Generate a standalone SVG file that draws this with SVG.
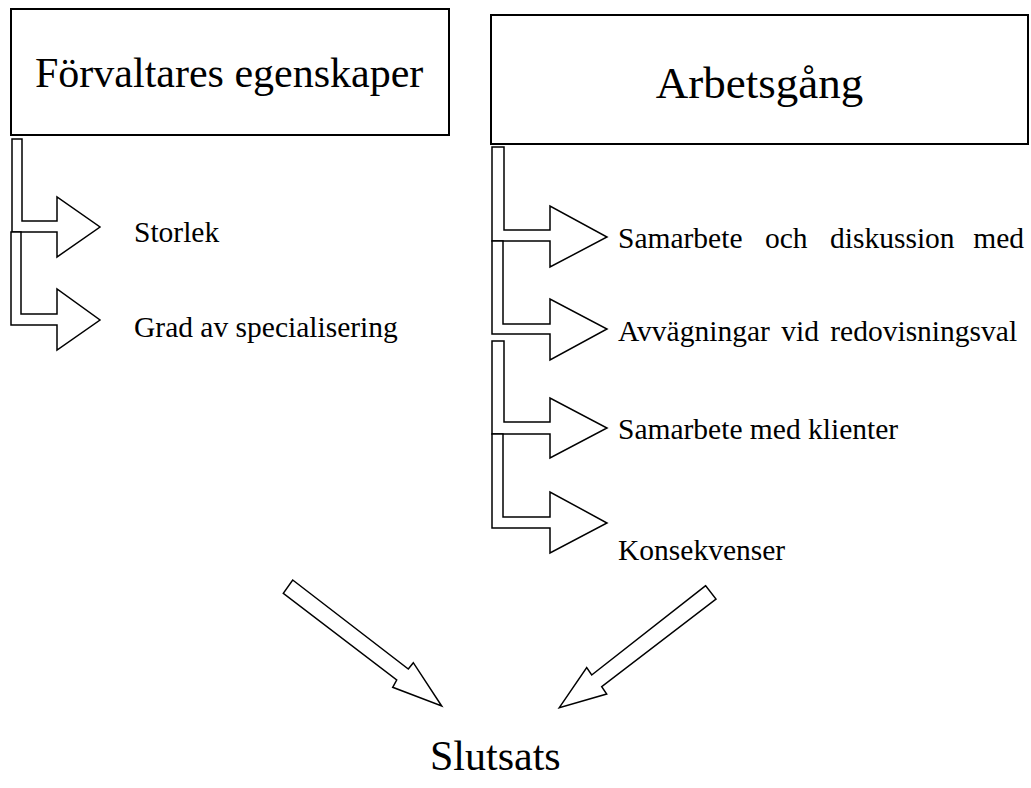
<svg xmlns="http://www.w3.org/2000/svg" width="1031" height="788" viewBox="0 0 1031 788">
<style>
.box{fill:#fff;stroke:#000;stroke-width:2}
.arr{fill:#fff;stroke:#000;stroke-width:1.5;stroke-linejoin:miter}
.h{font-family:"Liberation Serif",serif;font-size:42px;fill:#000}
.t{font-family:"Liberation Serif",serif;font-size:29.5px;fill:#000}
</style>
<rect width="1031" height="788" fill="#fff"/>
<g id="node-forvaltare">
<rect class="box" x="11" y="9" width="438" height="126"/>
<text class="h" x="35" y="87">Förvaltares egenskaper</text>
</g>
<g id="node-arbetsgang">
<rect class="box" x="491" y="15" width="537" height="129"/>
<text class="h" x="759.5" y="98" text-anchor="middle" style="font-size:45px">Arbetsgång</text>
</g>
<g id="node-storlek"><text class="t" x="134" y="242">Storlek</text></g>
<g id="node-grad"><text class="t" x="134" y="337">Grad av specialisering</text></g>
<g id="node-samarbete-diskussion"><text class="t" y="248"><tspan x="618">Samarbete</tspan><tspan x="765">och</tspan><tspan x="830">diskussion</tspan><tspan x="1024" text-anchor="end">med</tspan></text></g>
<g id="node-avvagningar"><text class="t" x="618" y="341" style="word-spacing:4px">Avvägningar vid redovisningsval</text></g>
<g id="node-klienter"><text class="t" x="618" y="439">Samarbete med klienter</text></g>
<g id="node-konsekvenser"><text class="t" x="618" y="560">Konsekvenser</text></g>
<g id="node-slutsats"><text class="h" x="430" y="770">Slutsats</text></g>
<g id="connectors">
<polygon class="arr" points="12,139 22,139 22,221 57,221 57,197 100,227 57,257 57,232 12,232"/>
<polygon class="arr" points="11,232 21,232 21,314 57,314 57,289 100,320 57,350 57,325 11,325"/>
<polygon class="arr" points="492,147 504,147 504,230 550,230 550,206 607,237 550,267 550,241 492,241"/>
<polygon class="arr" points="492,241 503,241 503,324 550,324 550,299 607,329 550,360 550,334 492,334"/>
<polygon class="arr" points="492,341 504,341 504,422 550,422 550,398 607,428 550,458 550,434 492,434"/>
<polygon class="arr" points="492,434 503,434 503,517 550,517 550,492 607,523 550,553 550,528 492,528"/>
<polygon class="arr" points="292.7,580 408.3,669 413.3,662.7 441.7,706 392.7,687.3 396.7,680 283.3,593.3"/>
<polygon class="arr" points="705.7,585.7 591.7,675 586.7,667.7 559.3,707.7 606.7,694 601.7,686.7 716,599"/>
</g>
</svg>
